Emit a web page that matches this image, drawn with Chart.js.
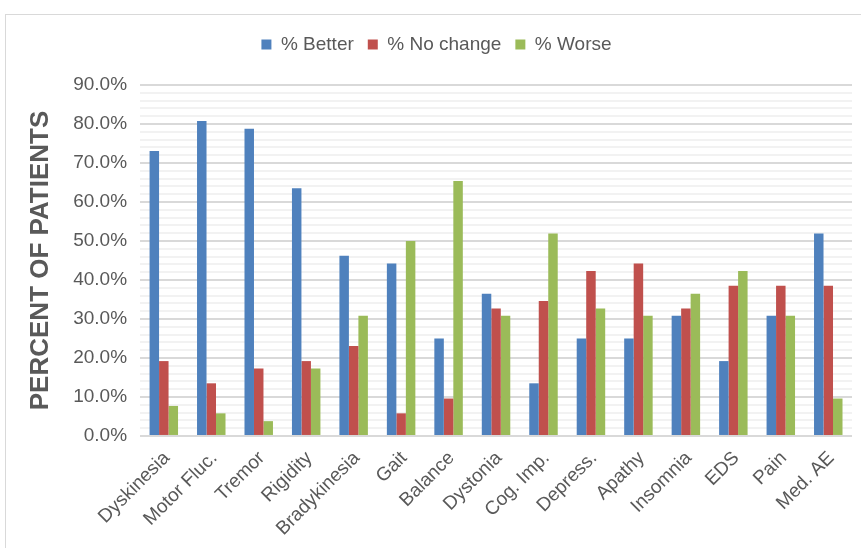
<!DOCTYPE html>
<html>
<head>
<meta charset="utf-8">
<script src="https://cdn.jsdelivr.net/npm/chart.js@4"></script>
<style>
  body { margin: 0; background: #fff; }
  #frame {
    position: absolute; left: 5px; top: 14px;
    width: 900px; height: 600px;
    border: 1px solid #d9d9d9;
  }
  #wrap { position: absolute; left: 0; top: 0; width: 861px; height: 548px; }
</style>
</head>
<body>
<div id="frame"></div>
<div id="wrap"><canvas id="chart"></canvas></div>
<script>
const categories = ["Dyskinesia", "Motor Fluc.", "Tremor", "Rigidity", "Bradykinesia", "Gait", "Balance",
  "Dystonia", "Cog. Imp.", "Depress.", "Apathy", "Insomnia", "EDS", "Pain", "Med. AE"];
const better   = [73.1, 80.8, 78.8, 63.5, 46.2, 44.2, 25.0, 36.5, 13.5, 25.0, 25.0, 30.8, 19.2, 30.8, 51.9];
const noChange = [19.2, 13.5, 17.3, 19.2, 23.1,  5.8,  9.6, 32.7, 34.6, 42.3, 44.2, 32.7, 38.5, 38.5, 38.5];
const worse    = [ 7.7,  5.8,  3.8, 17.3, 30.8, 50.0, 65.4, 30.8, 51.9, 32.7, 30.8, 36.5, 42.3, 30.8,  9.6];

const textColor = "#595959";
const font = "'Liberation Sans', Arial, sans-serif";

// push the plot area down below the legend
const legendGap = {
  id: "legendGap",
  beforeInit(chart) {
    const fit = chart.legend.fit;
    chart.legend.fit = function () {
      fit.bind(chart.legend)();
      this.height += 21;
    };
  },
};

const ctx = document.getElementById("chart").getContext("2d");
new Chart(ctx, {
  type: "bar",
  data: {
    labels: categories,
    datasets: [
      { label: "% Better", data: better, backgroundColor: "#4f81bd" },
      { label: "% No change", data: noChange, backgroundColor: "#c0504d" },
      { label: "% Worse", data: worse, backgroundColor: "#9bbb59" },
    ],
  },
  options: {
    responsive: true,
    maintainAspectRatio: false,
    animation: false,
    layout: { padding: { top: 21, left: 21, right: 9, bottom: 5 } },
    datasets: { bar: { categoryPercentage: 0.6, barPercentage: 1.0 } },
    plugins: {
      legend: {
        position: "top",
        labels: {
          boxWidth: 10, boxHeight: 10, padding: 14,
          color: textColor, font: { family: font, size: 19 },
        },
      },
      tooltip: { enabled: false },
    },
    scales: {
      x: {
        grid: { display: false },
        border: { display: false },
        ticks: {
          autoSkip: false, minRotation: 45, maxRotation: 45,
          padding: 3, labelOffset: 3,
          color: textColor, font: { family: font, size: 19 },
        },
      },
      y: {
        min: 0, max: 90,
        border: { display: false },
        grid: {
          drawTicks: false,
          color: (c) => (c.tick && c.tick.value % 10 === 0 ? "#d9d9d9" : "#f2f2f2"),
          lineWidth: 2,
        },
        ticks: {
          stepSize: 2,
          autoSkip: false,
          padding: 13,
          color: textColor, font: { family: font, size: 19 },
          callback: (v) => (v % 10 === 0 ? v.toFixed(1) + "%" : ""),
        },
        title: {
          display: true, text: "PERCENT OF PATIENTS",
          color: textColor, font: { family: font, size: 26, weight: "bold" },
        },
      },
    },
  },
  plugins: [legendGap],
});
</script>
</body>
</html>
